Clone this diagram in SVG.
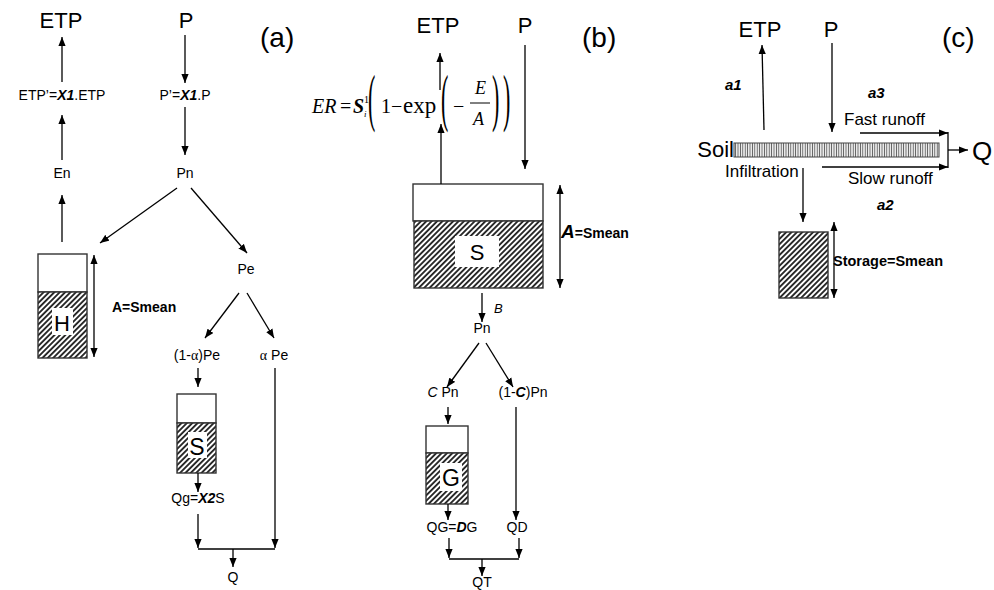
<svg xmlns="http://www.w3.org/2000/svg" width="994" height="590" viewBox="0 0 994 590">
<style>
.t{font-family:"Liberation Sans",Arial,sans-serif;fill:#000}
.m{text-anchor:middle}
.big{font-size:22px}
.pl{font-size:28px}
.lab{font-size:14px}
.lg{font-size:17px}
.bi{font-weight:bold;font-style:italic}
.b{font-weight:bold}
.f{font-family:"Liberation Serif","Times New Roman",serif;fill:#000}
.conn line,.conn path{stroke:#000;stroke-width:1.3;fill:none}
.tank{stroke:#333;stroke-width:1.4}
.arr{marker-end:url(#ah)}
.dbl{marker-start:url(#ah);marker-end:url(#ah)}
</style>
<defs>
<marker id="ah" viewBox="0 0 10 8" refX="10" refY="4" markerWidth="9" markerHeight="7.5" markerUnits="userSpaceOnUse" orient="auto-start-reverse"><path d="M0,0 L10,4 L0,8 z" fill="#000"/></marker>
<pattern id="hatch" width="3.8" height="3.8" patternUnits="userSpaceOnUse" patternTransform="rotate(45)"><rect width="3.8" height="3.8" fill="#fff"/><line x1="1.9" y1="0" x2="1.9" y2="3.8" stroke="#000" stroke-width="1.6"/></pattern>
<pattern id="vstripe" width="2.4" height="10" patternUnits="userSpaceOnUse"><rect width="2.4" height="10" fill="#fff"/><line x1="1.2" y1="0" x2="1.2" y2="10" stroke="#555" stroke-width="1"/></pattern>
</defs>
<rect width="994" height="590" fill="#fff"/>

<!-- Panel (a) -->
<g id="a-label"><text class="t pl" x="260" y="47">(a)</text></g>
<g id="a-ETP"><text class="t big m" x="61" y="28">ETP</text></g>
<g id="a-P"><text class="t big m" x="186" y="28">P</text></g>
<g id="a-ETPp"><text class="t lab m" x="62" y="100">ETP’=<tspan class="bi">X1</tspan>.ETP</text></g>
<g id="a-Pp"><text class="t lab m" x="185" y="100">P’=<tspan class="bi">X1</tspan>.P</text></g>
<g id="a-En"><text class="t lab m" x="62" y="178">En</text></g>
<g id="a-Pn"><text class="t lab m" x="185" y="178">Pn</text></g>
<g id="a-H">
<rect class="tank" x="38" y="254" width="49" height="38" fill="#fff"/>
<rect class="tank" x="38" y="292" width="49" height="66" fill="url(#hatch)"/>
<rect x="52" y="308" width="21" height="27" fill="#fff"/>
<text class="t big m" x="62" y="331">H</text>
</g>
<g id="a-A"><text class="t lab b" x="112" y="312">A=Smean</text></g>
<g id="a-Pe"><text class="t lab m" x="246" y="274">Pe</text></g>
<g id="a-1aPe"><text class="t lab m" x="197" y="360">(1-<tspan class="f">α</tspan>)Pe</text></g>
<g id="a-aPe"><text class="t lab m" x="274" y="360"><tspan class="f">α</tspan> Pe</text></g>
<g id="a-S">
<rect class="tank" x="177" y="394" width="39" height="29" fill="#fff"/>
<rect class="tank" x="177" y="423" width="39" height="50" fill="url(#hatch)"/>
<rect x="188" y="432" width="19" height="26" fill="#fff"/>
<text class="t m" style="font-size:23px" x="197" y="455">S</text>
</g>
<g id="a-Qg"><text class="t lab m" x="198" y="503">Qg=<tspan class="bi">X2</tspan>S</text></g>
<g id="a-Q"><text class="t lab m" x="233" y="582">Q</text></g>

<!-- Panel (b) -->
<g id="b-label"><text class="t pl" x="582" y="47">(b)</text></g>
<g id="b-ETP"><text class="t big m" x="438" y="33">ETP</text></g>
<g id="b-P"><text class="t big m" x="525" y="33">P</text></g>
<g id="b-ER">
<text class="f" style="font-size:20px;font-style:italic" x="312" y="113">ER</text>
<text class="f" style="font-size:20px" x="340" y="113">=</text>
<text class="f" style="font-size:20px;font-weight:bold;font-style:italic" x="353" y="113">S</text>
<text class="f" style="font-size:10px" x="364" y="103">1</text>
<text class="f" style="font-size:9px;font-style:italic" x="364" y="117">i</text>
<text class="f" style="font-size:22px" transform="translate(368,118.6) scale(1,2.9)">(</text>
<text class="f" style="font-size:20px" x="381" y="113">1</text>
<text class="f" style="font-size:20px" x="391" y="113">−</text>
<text class="f" style="font-size:23px" x="403" y="113">exp</text>
<text class="f" style="font-size:22px" transform="translate(441,118.6) scale(1,2.9)">(</text>
<text class="f" style="font-size:20px" x="453" y="113">−</text>
<text class="f" style="font-size:18px;font-style:italic" x="475" y="94">E</text>
<line x1="470" y1="103" x2="490" y2="103" stroke="#000" stroke-width="1"/>
<text class="f" style="font-size:18px;font-style:italic" x="473" y="125">A</text>
<text class="f" style="font-size:22px" transform="translate(492,118.6) scale(1,2.9)">)</text>
<text class="f" style="font-size:22px" transform="translate(503,118.6) scale(1,2.9)">)</text>
</g>
<g id="b-S">
<rect class="tank" x="413" y="184" width="130" height="37" fill="#fff"/>
<rect class="tank" x="414" y="221" width="129" height="67" fill="url(#hatch)"/>
<rect x="455" y="236" width="44" height="31" fill="#fff"/>
<text class="t big m" x="477" y="260">S</text>
</g>
<g id="b-A"><text class="t b" x="561" y="238"><tspan style="font-size:19px;font-style:italic">A</tspan><tspan style="font-size:14px">=Smean</tspan></text></g>
<g id="b-B"><text class="t" style="font-size:13px;font-style:italic" x="494" y="313">B</text></g>
<g id="b-Pn"><text class="t lab m" x="482" y="333">Pn</text></g>
<g id="b-CPn"><text class="t lab m" x="443" y="397"><tspan font-style="italic">C</tspan> Pn</text></g>
<g id="b-1CPn"><text class="t lab m" x="523" y="397">(1-<tspan class="bi">C</tspan>)Pn</text></g>
<g id="b-G">
<rect class="tank" x="426" y="426" width="42" height="27" fill="#fff"/>
<rect class="tank" x="426" y="453" width="42" height="51" fill="url(#hatch)"/>
<rect x="440" y="463" width="22" height="28" fill="#fff"/>
<text class="t m" style="font-size:23px" x="451" y="486">G</text>
</g>
<g id="b-QG"><text class="t lab m" x="452" y="532">QG=<tspan class="bi">D</tspan>G</text></g>
<g id="b-QD"><text class="t lab m" x="517" y="532">QD</text></g>
<g id="b-QT"><text class="t lab m" x="482" y="587">QT</text></g>

<!-- Panel (c) -->
<g id="c-label"><text class="t pl" x="942" y="47">(c)</text></g>
<g id="c-ETP"><text class="t big m" x="760" y="37">ETP</text></g>
<g id="c-P"><text class="t big m" x="831" y="37">P</text></g>
<g id="c-a1"><text class="t bi" style="font-size:15px" x="725" y="90">a1</text></g>
<g id="c-a3"><text class="t bi" style="font-size:15px" x="868" y="98">a3</text></g>
<g id="c-fast"><text class="t lg" x="844" y="125">Fast runoff</text></g>
<g id="c-soil">
<text class="t" style="font-size:22px;text-anchor:end" x="734" y="157">Soil</text>
<rect x="734" y="143" width="205" height="14" fill="url(#vstripe)" stroke="#444" stroke-width="1"/>
</g>
<g id="c-Q"><text class="t" style="font-size:26px" x="972" y="160">Q</text></g>
<g id="c-infil"><text class="t lg" x="725" y="177">Infiltration</text></g>
<g id="c-slow"><text class="t lg" x="848" y="184">Slow runoff</text></g>
<g id="c-a2"><text class="t bi" style="font-size:15px" x="877" y="210">a2</text></g>
<g id="c-storage">
<rect class="tank" x="779" y="232" width="49" height="66" fill="url(#hatch)"/>
<text class="t b" style="font-size:14.5px" x="833" y="266">Storage=Smean</text>
</g>

<!-- Connectors -->
<g id="connectors" class="conn">
<line class="arr" x1="62" y1="82" x2="62" y2="37"/>
<line class="arr" x1="62" y1="160" x2="62" y2="115"/>
<line class="arr" x1="62" y1="242" x2="62" y2="195"/>
<line class="arr" x1="185" y1="35" x2="185" y2="83"/>
<line class="arr" x1="185" y1="107" x2="185" y2="155"/>
<line class="arr" x1="177" y1="188" x2="100" y2="243"/>
<line class="arr" x1="191" y1="188" x2="247" y2="253"/>
<line class="arr" x1="239" y1="293" x2="205" y2="338"/>
<line class="arr" x1="247" y1="293" x2="274" y2="338"/>
<line class="dbl" x1="94" y1="255" x2="94" y2="357"/>
<line class="arr" x1="198" y1="368" x2="198" y2="387"/>
<line class="arr" x1="198" y1="473" x2="198" y2="492"/>
<line class="arr" x1="198" y1="514" x2="198" y2="548"/>
<line class="arr" x1="275" y1="368" x2="275" y2="548"/>
<line x1="198" y1="549" x2="275" y2="549"/>
<line class="arr" x1="233" y1="549" x2="233" y2="567"/>

<line class="arr" x1="440" y1="90" x2="440" y2="53"/>
<line class="arr" x1="441" y1="184" x2="441" y2="124"/>
<line class="arr" x1="525" y1="45" x2="525" y2="169"/>
<line class="dbl" x1="560" y1="185" x2="560" y2="288"/>
<line class="arr" x1="482" y1="293" x2="482" y2="322"/>
<line class="arr" x1="479" y1="343" x2="447" y2="387"/>
<line class="arr" x1="486" y1="343" x2="513" y2="387"/>
<line class="arr" x1="448" y1="407" x2="448" y2="424"/>
<line class="arr" x1="448" y1="504" x2="448" y2="520"/>
<line class="arr" x1="516" y1="407" x2="516" y2="520"/>
<line class="arr" x1="449" y1="538" x2="449" y2="558"/>
<line class="arr" x1="519" y1="538" x2="519" y2="558"/>
<line x1="449" y1="559" x2="519" y2="559"/>
<line class="arr" x1="482" y1="559" x2="482" y2="576"/>

<line class="arr" x1="764" y1="130" x2="762" y2="45"/>
<line class="arr" x1="832" y1="43" x2="832" y2="132"/>
<line class="arr" x1="860" y1="133" x2="948" y2="133"/>
<line class="arr" x1="822" y1="167" x2="948" y2="167"/>
<line x1="948" y1="132" x2="948" y2="168"/>
<line class="arr" x1="948" y1="150" x2="968" y2="150"/>
<line class="arr" x1="803" y1="168" x2="803" y2="222"/>
<line class="dbl" x1="834" y1="222" x2="834" y2="298"/>
</g>
</svg>
